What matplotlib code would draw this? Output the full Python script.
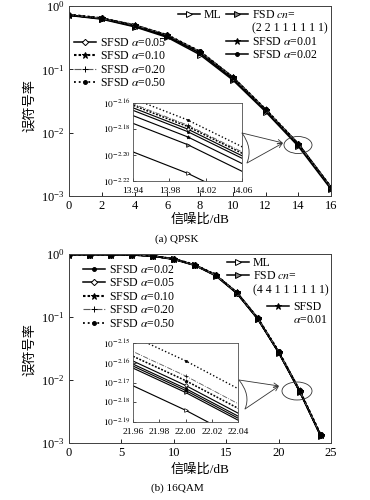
import matplotlib
matplotlib.use("Agg")
import matplotlib.pyplot as plt
import numpy as np
from matplotlib.lines import Line2D
from matplotlib.legend import Legend
from matplotlib.patches import Ellipse, FancyArrowPatch, PathPatch
from matplotlib.path import Path
from matplotlib.ticker import FixedLocator, NullLocator, FuncFormatter

plt.rcParams['font.family'] = ['Liberation Serif', 'Noto Sans CJK SC', 'DejaVu Sans']
plt.rcParams['mathtext.fontset'] = 'stix'

W, H = 370, 500

# ---------------- data ----------------
snr_a = [0, 2, 4, 6, 8, 10, 12, 14, 16]
ml_a   = [0.71, 0.62, 0.47, 0.32, 0.170, 0.068, 0.0215, 0.006109, 0.00128]
fsd_a  = [0.72, 0.63, 0.48, 0.33, 0.180, 0.071, 0.0225, 0.006427, 0.00133]
s001_a = [0.72, 0.635, 0.49, 0.34, 0.186, 0.073, 0.0228, 0.006516, 0.00135]
s002_a = [0.72, 0.635, 0.49, 0.34, 0.187, 0.074, 0.0230, 0.006577, 0.00136]
s005_a = [0.72, 0.64, 0.49, 0.345, 0.188, 0.074, 0.0231, 0.006607, 0.00136]
s010_a = [0.73, 0.64, 0.50, 0.345, 0.190, 0.075, 0.0232, 0.006637, 0.00137]
s020_a = [0.73, 0.64, 0.50, 0.35, 0.190, 0.075, 0.0233, 0.006653, 0.00137]
s050_a = [0.73, 0.645, 0.50, 0.35, 0.192, 0.076, 0.0235, 0.006714, 0.00138]

snr_b = [0, 2, 4, 6, 8, 10, 12, 14, 16, 18, 20, 22, 24]
ml_b   = [0.98, 0.98, 0.98, 0.97, 0.93, 0.82, 0.66, 0.45, 0.238, 0.093, 0.0272, 0.006546, 0.00130]
fsd_b  = [0.98, 0.98, 0.98, 0.97, 0.93, 0.83, 0.67, 0.46, 0.242, 0.094, 0.0276, 0.006683, 0.00133]
s001_b = [0.98, 0.98, 0.98, 0.97, 0.93, 0.83, 0.67, 0.46, 0.243, 0.095, 0.0277, 0.006699, 0.00133]
s002_b = [0.98, 0.98, 0.98, 0.97, 0.93, 0.83, 0.67, 0.46, 0.243, 0.095, 0.0278, 0.006714, 0.00134]
s005_b = [0.98, 0.98, 0.98, 0.97, 0.93, 0.83, 0.67, 0.46, 0.244, 0.095, 0.0279, 0.006738, 0.00134]
s010_b = [0.98, 0.98, 0.98, 0.97, 0.93, 0.83, 0.67, 0.46, 0.245, 0.096, 0.0280, 0.006776, 0.00135]
s020_b = [0.98, 0.98, 0.98, 0.97, 0.93, 0.83, 0.67, 0.46, 0.245, 0.096, 0.0282, 0.006813, 0.00135]
s050_b = [0.98, 0.98, 0.98, 0.97, 0.93, 0.84, 0.68, 0.47, 0.248, 0.097, 0.0287, 0.006934, 0.00137]

labels_common = ["ML", "FSD $cn$=", r"SFSD $\alpha$=0.01", r"SFSD $\alpha$=0.02",
                 r"SFSD $\alpha$=0.05", r"SFSD $\alpha$=0.10", r"SFSD $\alpha$=0.20",
                 r"SFSD $\alpha$=0.50"]
cn_a = "(2 2 1 1 1 1 1 1)"
cn_b = "(4 4 1 1 1 1 1 1)"

xticks_a = [0, 2, 4, 6, 8, 10, 12, 14, 16]
xticks_b = [0, 5, 10, 15, 20, 25]
inset_xticks_a = [13.94, 13.98, 14.02, 14.06]
inset_yexp_a = [-2.16, -2.18, -2.20, -2.22]
inset_xticks_b = [21.96, 21.98, 22.00, 22.02, 22.04]
inset_yexp_b = [-2.15, -2.16, -2.17, -2.18, -2.19]

styles = [
    dict(ls='-', marker='>', ms=4.5, mfc='white', color='black', lw=1.1),
    dict(ls='-', marker='>', ms=4.5, mfc='0.5', color='black', lw=1.1),
    dict(ls='-', marker='*', ms=4.5, mfc='black', color='black', lw=1.1),
    dict(ls='-', marker='o', ms=2.8, mfc='black', color='black', lw=1.1),
    dict(ls='-', marker='D', ms=3.2, mfc='white', color='black', lw=1.1),
    dict(ls=(0, (1.2, 1.0)), marker='*', ms=4.5, mfc='black', color='black', lw=1.5),
    dict(ls='-.', marker='+', ms=4.5, mfc='black', color='0.35', lw=0.8),
    dict(ls=':', marker='o', ms=2.8, mfc='black', color='black', lw=1.3),
]

def fp(x, y):
    return (x / W, 1 - y / H)

fig = plt.figure(figsize=(W / 100, H / 100), dpi=100)

def make_main(rect, snr, series, xticks, xlim):
    ax = fig.add_axes(rect)
    lines = []
    for s, st in zip(series, styles):
        l, = ax.plot(snr, s, linestyle=st['ls'], marker=st['marker'], markersize=st['ms'],
                     markerfacecolor=st['mfc'], markeredgecolor='black', color=st['color'],
                     lw=st['lw'], markeredgewidth=0.7)
        lines.append(l)
    ax.set_yscale('log')
    ax.set_ylim(1e-3, 1)
    ax.set_xlim(*xlim)
    ax.set_xticks(xticks)
    ax.set_yticks([1e-3, 1e-2, 1e-1, 1])
    ax.yaxis.set_minor_locator(NullLocator())
    ax.tick_params(direction='in', labelsize=9, length=3, width=0.6, pad=3)
    for sp in ax.spines.values():
        sp.set_linewidth(0.7)
        sp.set_color('0.25')
    return ax, lines

def make_inset(rect, snr, series, xlim, yexp, xticks, xfmt):
    ax = fig.add_axes(rect)
    for s, st in zip(series, styles):
        ax.plot(snr, s, linestyle=st['ls'], marker=st['marker'], markersize=st['ms'] * 0.6,
                markerfacecolor=st['mfc'], markeredgecolor='black', color=st['color'],
                lw=st['lw'] * 0.75, markeredgewidth=0.5)
    ax.set_yscale('log')
    ax.set_xlim(*xlim)
    ax.set_ylim(10 ** min(yexp), 10 ** max(yexp))
    ax.xaxis.set_major_locator(FixedLocator(xticks))
    ax.xaxis.set_major_formatter(FuncFormatter(lambda v, p: xfmt % v))
    ax.yaxis.set_major_locator(FixedLocator([10 ** e for e in yexp]))
    ax.yaxis.set_major_formatter(FuncFormatter(lambda v, p: r"$10^{%.2f}$" % np.log10(v)))
    ax.yaxis.set_minor_locator(NullLocator())
    ax.tick_params(direction='in', labelsize=6.8, length=2, width=0.5, pad=1.5)
    ax.tick_params(axis='x', pad=4.5)
    ax.set_facecolor('white')
    for sp in ax.spines.values():
        sp.set_linewidth(0.6)
        sp.set_color('0.3')
    return ax

def legend_at(ax, handles, labels, x, y):
    lg = Legend(ax, handles, labels, loc='upper left', bbox_to_anchor=fp(x, y),
                bbox_transform=fig.transFigure, frameon=False, borderpad=0,
                borderaxespad=0, handlelength=1.9, handletextpad=0.3,
                labelspacing=0.12, fontsize=8.5)
    ax.add_artist(lg)
    return lg

blank = Line2D([], [], linestyle='none')

def callout(top, ctrl, bot, tip, center, w, h):
    path = Path([fp(*top), fp(*ctrl), fp(*bot)], [Path.MOVETO, Path.CURVE3, Path.CURVE3])
    fig.add_artist(PathPatch(path, transform=fig.transFigure, fill=False, lw=0.6, color='0.2'))
    for st in (top, bot):
        fig.add_artist(FancyArrowPatch(fp(*st), fp(*tip), transform=fig.transFigure,
                                       arrowstyle='->', mutation_scale=8, lw=0.6, color='0.2',
                                       shrinkA=0, shrinkB=0))
    cx, cy = fp(*center)
    fig.add_artist(Ellipse((cx, cy), w / W, h / H, transform=fig.transFigure,
                           fill=False, lw=0.6, color='0.2'))

# ---------------- (a) QPSK ----------------
series_a = [ml_a, fsd_a, s001_a, s002_a, s005_a, s010_a, s020_a, s050_a]
axa, la = make_main([69 / W, 1 - 196 / H, 262 / W, 190 / H], snr_a, series_a, xticks_a, (0, 16))
legend_at(axa, [la[0]], [labels_common[0]], 178, 9)
legend_at(axa, [la[1], blank, la[2], la[3]], [labels_common[1], cn_a, labels_common[2], labels_common[3]], 226, 9)
legend_at(axa, la[4:8], labels_common[4:8], 74, 37)
make_inset([133 / W, 1 - 181 / H, 109 / W, 78 / H], snr_a, series_a, (13.94, 14.06),
           inset_yexp_a, inset_xticks_a, "%.2f")
callout((242, 133), (253, 148), (247, 163), (283, 143), (298, 145), 28, 17)

fig.text(200 / W, 1 - 220 / H, "信噪比/dB", ha='center', va='center', fontsize=9.5)
fig.text(30 / W, 1 - 105 / H, "误符号率", ha='center', va='center', rotation=90, fontsize=9.5)
fig.text(177 / W, 1 - 239 / H, "(a) QPSK", ha='center', va='center', fontsize=8)

# ---------------- (b) 16QAM ----------------
series_b = [ml_b, fsd_b, s001_b, s002_b, s005_b, s010_b, s020_b, s050_b]
axb, lb = make_main([69 / W, 1 - 443 / H, 262 / W, 189 / H], snr_b, series_b, xticks_b, (0, 25))
legend_at(axb, [lb[0], lb[1], blank], [labels_common[0], labels_common[1], cn_b], 227, 257)
legend_at(axb, [lb[2], blank], ["SFSD", r"$\alpha$=0.01"], 267, 301)
legend_at(axb, lb[3:8], labels_common[3:8], 83, 264)
make_inset([133 / W, 1 - 422 / H, 105 / W, 79 / H], snr_b, series_b, (21.96, 22.04),
           inset_yexp_b, inset_xticks_b, "%.2f")
callout((239, 380), (251, 395), (245, 409), (279, 386), (297, 391), 30, 18)

fig.text(200 / W, 1 - 470 / H, "信噪比/dB", ha='center', va='center', fontsize=9.5)
fig.text(30 / W, 1 - 350 / H, "误符号率", ha='center', va='center', rotation=90, fontsize=9.5)
fig.text(177 / W, 1 - 488 / H, "(b) 16QAM", ha='center', va='center', fontsize=8)

fig.savefig("out.png", dpi=100)
